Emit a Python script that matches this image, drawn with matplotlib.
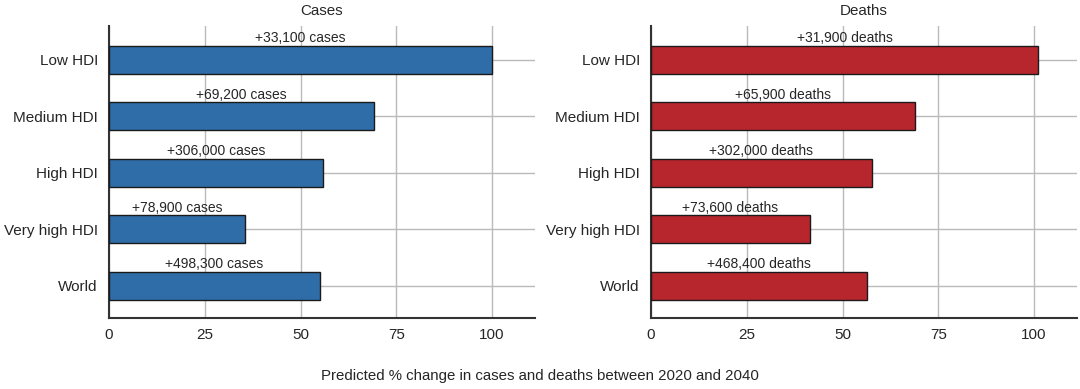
import matplotlib
matplotlib.use("Agg")
import matplotlib.pyplot as plt
import numpy as np

plt.rcParams['font.family'] = ['Liberation Sans', 'DejaVu Sans']

groups = ["Low HDI", "Medium HDI", "High HDI", "Very high HDI", "World"]
cases_pct = [100, 69.3, 55.8, 35.4, 55.0]
deaths_pct = [101, 68.8, 57.6, 41.4, 56.4]
cases_lab = ["+33,100 cases", "+69,200 cases", "+306,000 cases",
             "+78,900 cases", "+498,300 cases"]
deaths_lab = ["+31,900 deaths", "+65,900 deaths", "+302,000 deaths",
              "+73,600 deaths", "+468,400 deaths"]
xticks = [0, 25, 50, 75, 100]

txt = '#262626'

fig = plt.figure(figsize=(10.8, 3.89), dpi=100)
ax1 = fig.add_axes([109/1080, 1-318/389, 426/1080, 292/389])
ax2 = fig.add_axes([651/1080, 1-318/389, 426/1080, 292/389])

def panel(ax, vals, labs, color, title):
    y = np.arange(len(groups))
    ax.set_axisbelow(True)
    ax.barh(y, vals, height=0.5, color=color, edgecolor='#1a1a1a', linewidth=1.0, zorder=3)
    for yi, v, l in zip(y, vals, labs):
        ax.text(v/2, yi - 0.385, l, ha='center', va='center', fontsize=10, color=txt, zorder=4)
    ax.set_yticks(y)
    ax.set_yticklabels(groups)
    ax.set_xticks(xticks)
    ax.set_xlim(0, 111.2)
    ax.set_ylim(4.57, -0.60)
    ax.grid(True, color='#bababa', linewidth=1.0)
    for s in ['top', 'right']:
        ax.spines[s].set_visible(False)
    for s in ['left', 'bottom']:
        ax.spines[s].set_color('#333333')
        ax.spines[s].set_linewidth(1.5)
    ax.tick_params(axis='both', length=0, labelsize=11, labelcolor=txt)
    ax.tick_params(axis='y', pad=8)
    ax.tick_params(axis='x', pad=7.5)
    ax.set_title(title, fontsize=10.9, color=txt, pad=8)

panel(ax1, cases_pct, cases_lab, '#2e6da8', 'Cases')
panel(ax2, deaths_pct, deaths_lab, '#b8262d', 'Deaths')

fig.text(0.5, 1-376/389, "Predicted % change in cases and deaths between 2020 and 2040",
         ha='center', va='center', fontsize=10.8, color=txt)

fig.savefig("out.png", dpi=100)
